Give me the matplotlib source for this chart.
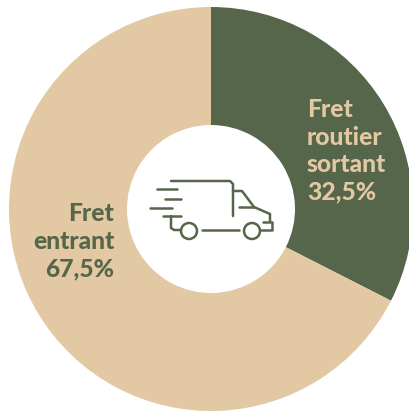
import matplotlib
matplotlib.use('Agg')
import matplotlib.pyplot as plt
from matplotlib.patches import Circle

labels = ['Fret\nroutier\nsortant\n32,5%', 'Fret\nentrant\n67,5%']
values = [32.5, 67.5]
colors = ['#56664a', '#e2c8a3']
label_colors = ['#e2c8a3', '#56664a']

fig = plt.figure(figsize=(4.09, 4.12), dpi=100)
ax = fig.add_axes([0, 0, 1, 1])

def Y(y):
    return 412 - y

ax.pie(values, colors=colors, startangle=90, counterclock=False,
       radius=202, center=(211, Y(209)), wedgeprops=dict(width=118, linewidth=0),
       frame=True)
ax.set_xlim(0, 409)
ax.set_ylim(0, 412)
ax.set_aspect('equal')
ax.axis('off')

ax.text(307, Y(151), labels[0], color=label_colors[0], fontsize=17.7, fontweight='black',
        family='Lato', ha='left', va='center', linespacing=1.23)
ax.text(114, Y(241), labels[1], color=label_colors[1], fontsize=17.7, fontweight='black',
        family='Lato', ha='right', va='center', linespacing=1.23)

# petit camion
c = colors[0]
lw = 1.8
def line(xs, ys):
    ax.plot(xs, [Y(v) for v in ys], color=c, lw=lw, solid_capstyle='round', solid_joinstyle='round')
line([171, 230, 233, 233], [181, 181, 184, 216])
line([157, 177], [189, 189])
line([165, 181], [199, 199])
line([150, 172], [208, 208])
line([163, 181], [216, 216])
line([171, 171, 174, 181], [216, 228, 230, 230])
line([202, 239], [230, 230])
line([233, 242, 254, 270, 270], [191, 191, 207, 214, 221])
line([239, 254], [207, 207])
line([263, 272, 272, 261], [222, 222, 230, 230])
for x in (189, 252):
    ax.add_patch(Circle((x, Y(231)), 8, fill=False, ec=c, lw=lw))

fig.savefig('out.png', dpi=100)
